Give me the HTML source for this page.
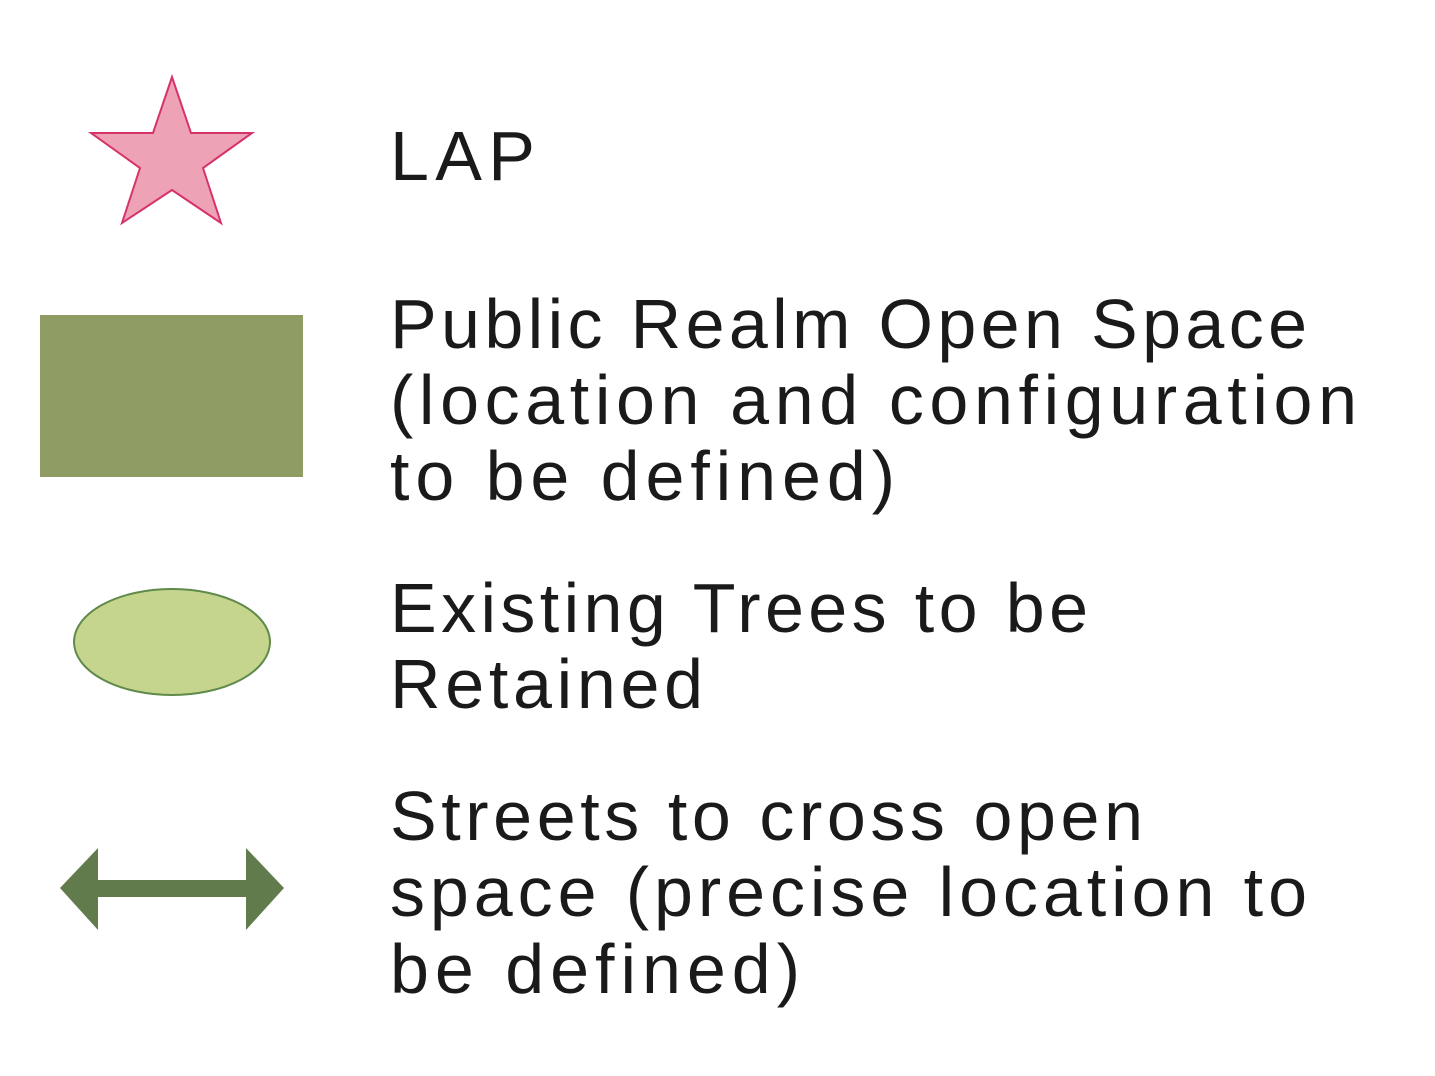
<!DOCTYPE html>
<html><head><meta charset="utf-8"><style>html,body{margin:0;padding:0;background:#fff}</style></head>
<body>
<svg width="1435" height="1071" viewBox="0 0 1435 1071" xmlns="http://www.w3.org/2000/svg">
<rect width="1435" height="1071" fill="#fff"/>
<polygon points="172,77 191,133 252,133 203,168 221,223 172,190 122,223 140,168 91,133 153,133" fill="#eea2b5" stroke="#d6336a" stroke-width="2"/>
<rect x="40" y="315" width="263" height="162" fill="#8f9c64"/>
<ellipse cx="172" cy="642" rx="98" ry="53" fill="#c6d58e" stroke="#5f8a4a" stroke-width="2"/>
<polygon points="60,888 98,848 98,880 246,880 246,848 284,888 246,930 246,897 98,897 98,930" fill="#627b4c"/>
<g font-family="Liberation Sans, sans-serif" font-size="70" fill="#1a1a1a">
<text x="390" y="180" textLength="145" lengthAdjust="spacing">LAP</text>
<text x="390" y="348" textLength="917" lengthAdjust="spacing">Public Realm Open Space</text>
<text x="390" y="424" textLength="967" lengthAdjust="spacing">(location and configuration</text>
<text x="390" y="500" textLength="505" lengthAdjust="spacing">to be defined)</text>
<text x="390" y="632" textLength="698" lengthAdjust="spacing">Existing Trees to be</text>
<text x="390" y="708" textLength="313" lengthAdjust="spacing">Retained</text>
<text x="390" y="840" textLength="753" lengthAdjust="spacing">Streets to cross open</text>
<text x="390" y="916" textLength="917" lengthAdjust="spacing">space (precise location to</text>
<text x="390" y="993" textLength="410" lengthAdjust="spacing">be defined)</text>
</g>
</svg>
</body></html>
